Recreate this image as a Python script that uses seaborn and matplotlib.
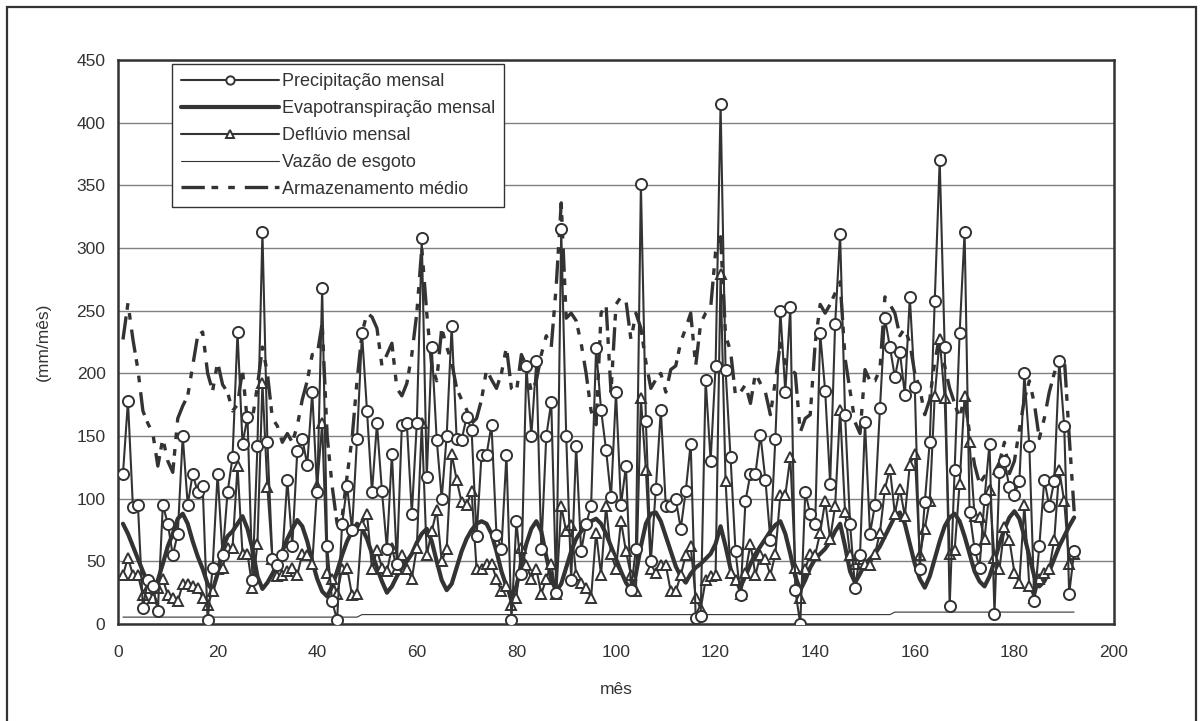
import numpy as np
import pandas as pd
import seaborn as sns
import matplotlib.pyplot as plt
from matplotlib.patches import Rectangle

# valores (mm/mês), meses 1..192
meses = list(range(1, 193))

precipitacao = [
    120, 178, 93, 95, 13, 35, 30, 10, 95, 80, 55, 72,
    150, 95, 120, 105, 110, 3, 45, 120, 55, 105, 133, 233,
    144, 165, 35, 142, 313, 145, 52, 47, 55, 115, 62, 138,
    148, 127, 185, 105, 268, 62, 18, 3, 80, 110, 75, 148,
    232, 170, 105, 160, 106, 60, 136, 48, 159, 160, 88, 160,
    308, 117, 221, 147, 100, 150, 238, 148, 147, 165, 155, 70,
    135, 135, 159, 71, 60, 135, 3, 82, 40, 206, 150, 210,
    60, 150, 177, 25, 315, 150, 35, 142, 58, 80, 94, 220,
    171, 139, 101, 185, 95, 126, 27, 60, 351, 162, 50, 108,
    171, 94, 94, 100, 76, 106, 144, 5, 6, 195, 130, 206,
    415, 203, 133, 58, 23, 98, 120, 120, 151, 115, 67, 148,
    250, 185, 253, 27, 0, 105, 88, 80, 232, 186, 112, 239,
    311, 167, 80, 29, 55, 161, 72, 95, 172, 244, 221, 197,
    217, 183, 261, 189, 44, 97, 145, 258, 370, 221, 14, 123,
    232, 313, 89, 60, 45, 100, 144, 8, 121, 130, 109, 103,
    114, 200, 142, 18, 62, 115, 94, 114, 210, 158, 24, 58,
]

evapotranspiracao = [
    80, 72, 62, 52, 42, 33, 28, 35, 48, 62, 72, 84,
    88, 80, 66, 54, 44, 32, 27, 40, 60, 70, 74, 80,
    86, 76, 60, 38, 28, 33, 40, 48, 58, 68, 76, 83,
    78, 66, 50, 36, 26, 22, 30, 42, 55, 66, 74, 80,
    76, 68, 56, 45, 34, 25, 30, 38, 45, 50, 56, 65,
    72, 76, 66, 50, 35, 27, 32, 45, 58, 68, 75, 80,
    82, 80, 72, 58, 42, 30, 22, 30, 48, 64, 76, 82,
    74, 54, 36, 26, 32, 45, 58, 68, 74, 78, 82, 84,
    80, 72, 62, 52, 42, 33, 27, 40, 62, 80, 88, 89,
    82, 70, 58, 46, 38, 33, 40, 45, 48, 52, 56, 64,
    78, 62, 44, 33, 30, 38, 48, 56, 62, 68, 74, 79,
    82, 72, 56, 38, 27, 35, 45, 52, 56, 60, 66, 74,
    80, 62, 42, 33, 40, 48, 52, 56, 62, 70, 78, 86,
    89, 80, 64, 48, 36, 29, 38, 52, 66, 78, 85, 88,
    82, 70, 56, 42, 34, 30, 38, 50, 64, 76, 85, 90,
    84, 70, 54, 38, 30, 34, 42, 52, 62, 70, 78, 85,
]

defluvio = [
    39, 53, 39, 39, 23, 29, 21, 29, 36, 23, 21, 18,
    32, 32, 30, 29, 21, 15, 26, 44, 45, 61, 61, 126,
    56, 56, 29, 64, 192, 109, 52, 38, 39, 42, 45, 39,
    56, 55, 48, 110, 160, 41, 36, 24, 44, 45, 23, 24,
    79, 88, 44, 59, 45, 42, 61, 44, 55, 44, 36, 61,
    160, 55, 74, 91, 50, 60, 136, 115, 97, 95, 106, 44,
    44, 48, 48, 36, 26, 30, 15, 21, 61, 47, 36, 44,
    24, 36, 48, 24, 94, 74, 79, 39, 33, 29, 21, 73,
    39, 94, 56, 44, 82, 58, 39, 26, 180, 123, 44, 41,
    47, 47, 26, 26, 39, 55, 62, 21, 12, 35, 38, 39,
    279, 114, 41, 35, 24, 41, 64, 39, 55, 52, 39, 56,
    103, 103, 133, 45, 21, 44, 56, 55, 73, 98, 68, 94,
    171, 89, 55, 48, 52, 48, 47, 56, 73, 108, 124, 88,
    108, 86, 127, 136, 55, 76, 98, 182, 227, 180, 56, 59,
    112, 182, 145, 86, 85, 68, 107, 53, 44, 77, 67, 41,
    33, 95, 30, 21, 36, 41, 44, 67, 123, 98, 48, 56,
]

# vazão de esgoto: três patamares
esgoto = [5.5] * 48 + [7.5] * 107 + [9.5] * 37

armazenamento = [
    227, 256, 227, 203, 170, 160, 152, 126, 148, 130, 121, 164,
    174, 182, 206, 230, 233, 200, 186, 209, 191, 185, 170, 175,
    203, 160, 164, 190, 221, 200, 164, 158, 145, 152, 145, 158,
    179, 194, 215, 215, 240, 150, 110, 80, 85, 118, 148, 194,
    232, 248, 245, 236, 206, 215, 224, 188, 182, 192, 215, 248,
    300, 248, 206, 194, 236, 221, 209, 188, 179, 171, 160, 164,
    179, 203, 195, 188, 200, 221, 188, 185, 215, 206, 185, 194,
    215, 230, 221, 270, 336, 244, 248, 242, 224, 200, 170, 159,
    248, 255, 185, 255, 261, 258, 227, 248, 236, 209, 188, 195,
    200, 185, 203, 206, 225, 236, 248, 206, 240, 248, 252, 297,
    309, 230, 218, 182, 185, 191, 176, 200, 192, 185, 167, 194,
    224, 208, 203, 200, 153, 164, 167, 224, 255, 248, 255, 264,
    273, 212, 186, 161, 152, 203, 194, 194, 203, 261, 255, 248,
    230, 236, 224, 200, 188, 167, 179, 209, 230, 206, 188, 176,
    164, 182, 152, 127, 112, 118, 108, 121, 129, 145, 120, 130,
    155, 179, 194, 176, 148, 164, 185, 200, 211, 214, 150, 90,
]

df = pd.DataFrame({
    'mes': meses,
    'precipitacao': precipitacao,
    'evapotranspiracao': evapotranspiracao,
    'defluvio': defluvio,
    'esgoto': esgoto,
    'armazenamento': armazenamento,
})

sns.set_style('white')
plt.rcParams['font.family'] = ['Liberation Sans', 'DejaVu Sans']
plt.rcParams['font.size'] = 12.5

cor = '#333333'

fig = plt.figure(figsize=(12.03, 7.21), dpi=100)
ax = fig.add_axes([118 / 1203, 1 - 624 / 721, 996 / 1203, 564 / 721])

# moldura externa
fig.patches.append(Rectangle((7 / 1203, -0.01), 1189 / 1203, 1 - 7 / 721 + 0.01,
                             transform=fig.transFigure, fill=False,
                             edgecolor=cor, linewidth=1.6))

sns.lineplot(data=df, x='mes', y='esgoto', ax=ax, color=cor, linewidth=0.8,
             estimator=None, label='Vazão de esgoto', zorder=2)
sns.lineplot(data=df, x='mes', y='armazenamento', ax=ax, color=cor, linewidth=2.4,
             linestyle=(0, (7, 2, 2, 3, 2, 3)), estimator=None,
             label='Armazenamento médio', zorder=3)
sns.lineplot(data=df, x='mes', y='evapotranspiracao', ax=ax, color=cor, linewidth=3,
             estimator=None, label='Evapotranspiração mensal', zorder=4)
sns.lineplot(data=df, x='mes', y='defluvio', ax=ax, color=cor, linewidth=1.5,
             marker='^', markersize=7.5, markerfacecolor='white', markeredgecolor=cor,
             markeredgewidth=1.4, estimator=None, label='Deflúvio mensal', zorder=5)
sns.lineplot(data=df, x='mes', y='precipitacao', ax=ax, color=cor, linewidth=1.5,
             marker='o', markersize=8, markerfacecolor='white', markeredgecolor=cor,
             markeredgewidth=1.4, estimator=None, label='Precipitação mensal', zorder=6)

ax.set_xlim(0, 200)
ax.set_ylim(0, 450)
ax.set_xticks(range(0, 201, 20))
ax.set_yticks(range(0, 451, 50))
ax.yaxis.grid(True, color='#808080', linewidth=1)
ax.set_axisbelow(True)
for s in ax.spines.values():
    s.set_color(cor)
    s.set_linewidth(1.8)
ax.tick_params(axis='both', direction='out', length=5, width=1, color='#808080',
               labelcolor=cor, labelsize=12.5)
ax.tick_params(axis='x', pad=10)
ax.tick_params(axis='y', pad=4)
ax.set_xlabel('mês', color=cor, fontsize=12.5, labelpad=16)
ax.set_ylabel('(mm/mês)', color=cor, fontsize=12.5, labelpad=18)

handles, labels = ax.get_legend_handles_labels()
ordem = ['Precipitação mensal', 'Evapotranspiração mensal', 'Deflúvio mensal',
         'Vazão de esgoto', 'Armazenamento médio']
hmap = dict(zip(labels, handles))
leg = ax.legend([hmap[k] for k in ordem], ordem, loc='upper left',
                bbox_to_anchor=(54 / 996, (624 - 64) / 564), borderaxespad=0,
                frameon=True, fancybox=False, framealpha=1, edgecolor=cor,
                handlelength=5.4, handletextpad=0.2, labelspacing=0.55,
                borderpad=0.5, fontsize=13, markerscale=0.75)
leg.get_frame().set_linewidth(1.0)
for t in leg.get_texts():
    t.set_color(cor)

fig.savefig('out.png', dpi=100)
